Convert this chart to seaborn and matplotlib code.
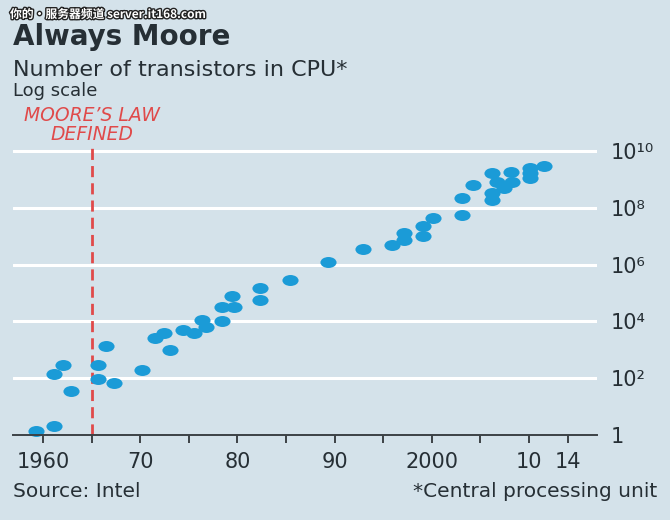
import numpy as np
import pandas as pd
import matplotlib
matplotlib.use("Agg")
import matplotlib.pyplot as plt
import matplotlib.patheffects as pe
from matplotlib.path import Path
import seaborn as sns

# transistor counts per CPU
years = [1959.3, 1961.1, 1961.1, 1962.0, 1962.9, 1965.6, 1965.6, 1966.5, 1967.3,
         1970.2, 1971.5, 1972.4, 1973.1, 1974.4, 1975.5, 1976.3, 1976.8, 1978.4,
         1978.4, 1979.6, 1979.4, 1982.3, 1982.3, 1985.4, 1989.3, 1992.9, 1995.9,
         1997.1, 1997.1, 1999.1, 1999.1, 2000.1, 2003.1, 2003.1, 2004.2, 2006.2,
         2006.2, 2006.2, 2006.7, 2007.4, 2008.2, 2008.3, 2010.1, 2010.1, 2010.1,
         2011.5]
transistors = [1.4, 2, 140, 290, 35, 290, 93, 1400, 66,
               195, 2500, 3800, 980, 5000, 3800, 11000, 6500, 10500,
               32000, 32000, 78000, 56000, 150000, 290000, 1.23e6, 3.5e6, 4.7e6,
               7.4e6, 1.26e7, 1.02e7, 2.2e7, 4.4e7, 5.6e7, 2.3e8, 6.3e8, 1.74e9,
               3.2e8, 1.86e8, 8.3e8, 4.9e8, 1.86e9, 7.9e8, 2.5e9, 1.7e9, 1.1e9,
               2.95e9]

xticks = [1960, 1970, 1980, 1990, 2000, 2010, 2014]
xticklabels = ["1960", "70", "80", "90", "2000", "10", "14"]
xminor = [1965, 1975, 1985, 1995, 2005]
yticks = [1, 1e2, 1e4, 1e6, 1e8, 1e10]
yticklabels = ["1", "10\u00b2", "10\u2074", "10\u2076", "10\u2078", "10\u00b9\u2070"]
moore_year = 1965

BG = "#d4e2ea"
DOT = "#1b9bd7"
RED = "#e04a4a"
INK = "#262f35"

sns.set_style("white", rc={"axes.facecolor": BG, "figure.facecolor": BG})
plt.rcParams["font.family"] = ["DejaVu Sans"]

df = pd.DataFrame({"year": years, "transistors": transistors})

fig = plt.figure(figsize=(6.7, 5.2), dpi=100)
ax = fig.add_axes([13 / 670, 1 - 435 / 520, (597 - 13) / 670, (435 - 147) / 520])

ax.set_yscale("log")
ax.set_xlim(1956.9, 2017.0)
ax.set_ylim(1, 10 ** 10.14)

# white gridlines, except at 1 where the axis sits
for t in yticks[1:]:
    ax.axhline(t, color="white", lw=2.2, zorder=1)

ax.axvline(moore_year, color=RED, lw=2, dashes=(4, 2.2), zorder=2)
ax.text(moore_year, 1.012, "MOORE\u2019S LAW\nDEFINED", transform=ax.get_xaxis_transform(),
        ha="center", va="bottom", color=RED, fontsize=13.5, style="italic",
        linespacing=1.0)

circ = Path.unit_circle()
ellipse = Path(circ.vertices * np.array([1.0, 0.68]), circ.codes)
sns.scatterplot(data=df, x="year", y="transistors", ax=ax, marker=ellipse,
                s=135, color=DOT, linewidth=0, zorder=3, clip_on=False)

for s in ["top", "left", "right"]:
    ax.spines[s].set_visible(False)
ax.spines["bottom"].set_color("#3c4246")
ax.spines["bottom"].set_linewidth(1.4)
ax.spines["bottom"].set_zorder(4)

ax.set_xticks(xticks)
ax.set_xticklabels(xticklabels)
ax.set_xticks(xminor, minor=True)
ax.tick_params(axis="x", which="both", direction="out", length=6, width=1.4,
               color="#3c4246", bottom=True)
ax.tick_params(axis="x", which="major", labelsize=15, labelcolor=INK, pad=6)

ax.yaxis.tick_right()
ax.set_yticks(yticks)
ax.set_yticklabels(yticklabels)
ax.yaxis.set_minor_locator(matplotlib.ticker.NullLocator())
ax.tick_params(axis="y", which="both", length=0, labelsize=15, labelcolor=INK, pad=10)
ax.set_xlabel("")
ax.set_ylabel("")

fig.text(13 / 670, 1 - 45 / 520, "Always Moore", fontsize=20, fontweight="bold",
         color=INK, va="baseline")
fig.text(13 / 670, 1 - 76 / 520, "Number of transistors in CPU*", fontsize=16,
         color=INK, va="baseline")
fig.text(13 / 670, 1 - 96 / 520, "Log scale", fontsize=13, color=INK, va="baseline")
fig.text(13 / 670, 1 - 497 / 520, "Source: Intel", fontsize=14.5, color=INK, va="baseline")
fig.text(657 / 670, 1 - 497 / 520, "*Central processing unit", fontsize=14.5, color=INK,
         va="baseline", ha="right")

fig.text(10 / 670, 1 - 18 / 520, "你的・服务器频道 server.it168.com", fontsize=8.5,
         color="white", fontweight="bold", va="baseline",
         family=["Noto Sans CJK SC", "DejaVu Sans"],
         path_effects=[pe.withStroke(linewidth=2, foreground="#222222")])

fig.savefig("out.png", dpi=100, facecolor=BG)
